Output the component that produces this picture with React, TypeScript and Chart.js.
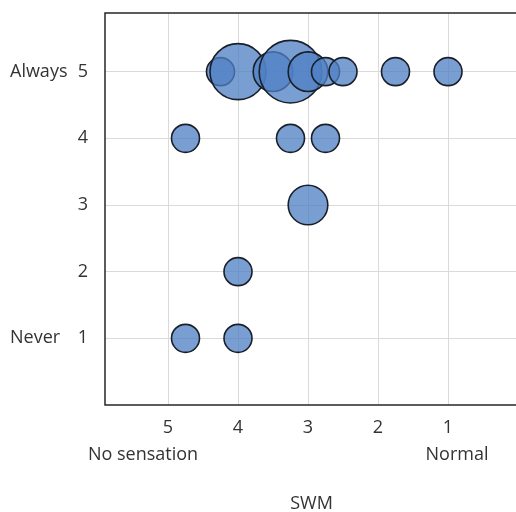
import React, { useEffect, useRef } from "react";
import { Chart, registerables } from "chart.js";

Chart.register(...registerables);

// SWM score (x, reversed axis) and frequency score (y) of each bubble
const swmValues = [4.25, 4, 3.5, 3.25, 3, 2.75, 2.5, 1.75, 1, 4.75, 3.25, 2.75, 3, 4, 4.75, 4];
const frequencyValues = [5, 5, 5, 5, 5, 5, 5, 5, 5, 4, 4, 4, 3, 2, 1, 1];
// number of cases at each point (bubble area)
const caseCounts = [1, 4, 2, 5, 2, 1, 1, 1, 1, 1, 1, 1, 2, 1, 1, 1];

const xTickValues = [1, 2, 3, 4, 5];
const yTickValues = [1, 2, 3, 4, 5];
const yEndLabelValues = [5, 1];
const yEndLabelTexts = ["Always", "Never"];
const xEndLabelValues = [5, 1];
const xEndLabelTexts = ["No sensation", "Normal"];
const xAxisTitle = "SWM";

const FONT = "'Open Sans', 'Liberation Sans', sans-serif";
const TEXT = "#333333";

const extras = {
  id: "extras",
  beforeDatasetsDraw(chart: any) {
    const { ctx, chartArea } = chart;
    ctx.save();
    ctx.strokeStyle = "#262626";
    ctx.lineWidth = 1.5;
    ctx.beginPath();
    ctx.moveTo(chartArea.right + 20, chartArea.top);
    ctx.lineTo(chartArea.left, chartArea.top);
    ctx.lineTo(chartArea.left, chartArea.bottom);
    ctx.lineTo(chartArea.right + 20, chartArea.bottom);
    ctx.stroke();
    ctx.restore();
  },
  afterDraw(chart: any) {
    const { ctx, chartArea, scales } = chart;
    const x = scales.x;
    const y = scales.y;
    ctx.save();
    ctx.fillStyle = TEXT;
    ctx.font = `18px ${FONT}`;
    ctx.textBaseline = "middle";
    ctx.textAlign = "left";
    yEndLabelValues.forEach((v, i) => {
      ctx.fillText(yEndLabelTexts[i], 10, y.getPixelForValue(v));
    });
    ctx.textAlign = "center";
    const offsets = [-25, 9];
    xEndLabelValues.forEach((v, i) => {
      ctx.fillText(xEndLabelTexts[i], x.getPixelForValue(v) + offsets[i], chartArea.bottom + 50);
    });
    ctx.fillText(xAxisTitle, (chartArea.left + chartArea.right) / 2, chartArea.bottom + 99);
    ctx.restore();
  },
};

export default function App() {
  const canvasRef = useRef<HTMLCanvasElement>(null);

  useEffect(() => {
    if (!canvasRef.current) return;
    const data = swmValues.map((xv, i) => ({
      x: xv,
      y: frequencyValues[i],
      r: 14 * Math.sqrt(caseCounts[i]),
    }));
    const chart = new Chart(canvasRef.current, {
      type: "bubble",
      data: {
        datasets: [
          {
            data,
            backgroundColor: "rgba(79,127,196,0.76)",
            borderColor: "#1a1f29",
            borderWidth: 1.6,
            hoverRadius: 0,
          },
        ],
      },
      options: {
        animation: false,
        responsive: true,
        maintainAspectRatio: false,
        events: [],
        layout: { autoPadding: false, padding: { top: 13, right: 12, left: 0, bottom: 0 } },
        plugins: { legend: { display: false }, tooltip: { enabled: false } },
        scales: {
          x: {
            type: "linear",
            reverse: true,
            min: 0,
            max: 5.9,
            afterBuildTicks: (s: any) => {
              s.ticks = xTickValues.map((v) => ({ value: v }));
            },
            afterFit: (s: any) => {
              s.height = 107;
              s.paddingLeft = 0;
              s.paddingRight = 0;
            },
            grid: { color: "#dadada", lineWidth: 1, drawTicks: false },
            border: { display: false },
            ticks: {
              font: { family: FONT, size: 18 },
              color: TEXT,
              padding: 12,
              maxRotation: 0,
            },
          },
          y: {
            type: "linear",
            min: 0,
            max: 5.88,
            afterBuildTicks: (s: any) => {
              s.ticks = yTickValues.map((v) => ({ value: v }));
            },
            afterFit: (s: any) => {
              s.width = 105;
              s.paddingTop = 0;
              s.paddingBottom = 0;
            },
            grid: { color: "#dadada", lineWidth: 1, drawTicks: false },
            border: { display: false },
            ticks: {
              font: { family: FONT, size: 18 },
              color: TEXT,
              padding: 17,
            },
          },
        },
      },
      plugins: [extras],
    });
    return () => chart.destroy();
  }, []);

  return (
    <div
      style={{
        position: "fixed",
        left: 0,
        top: 0,
        width: 530,
        height: 512,
        overflow: "hidden",
        background: "#fff",
      }}
    >
      <canvas ref={canvasRef} />
    </div>
  );
}
